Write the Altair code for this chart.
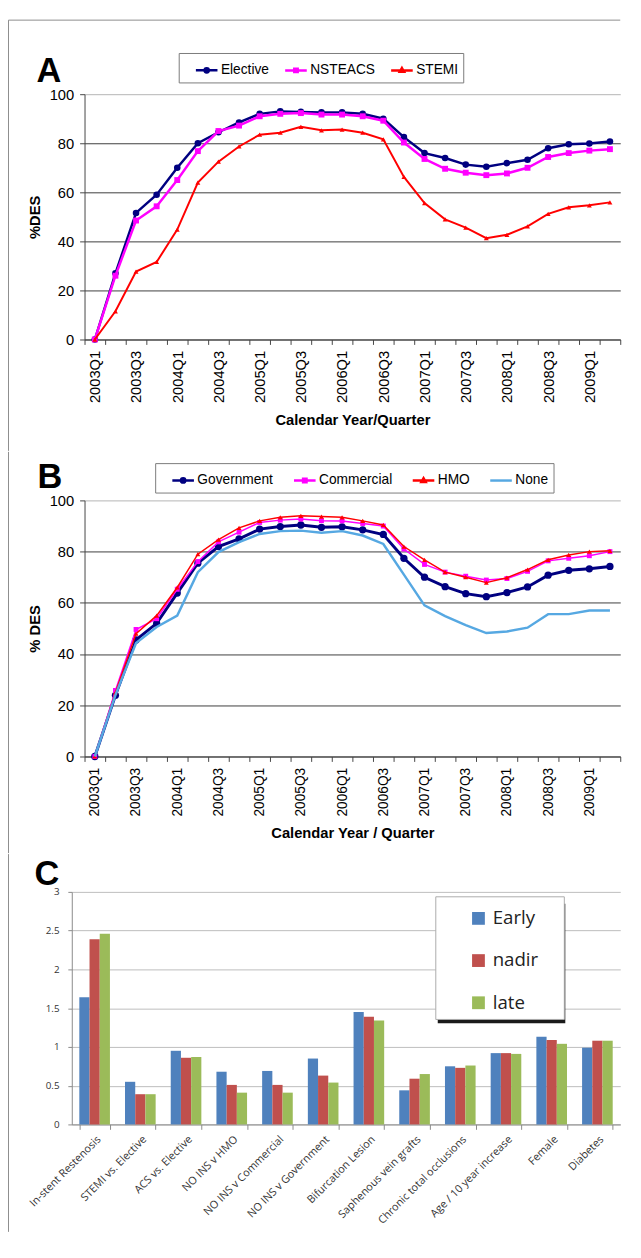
import altair as alt
import pandas as pd

FONT = "Liberation Sans"
CFONT = "Open Sans"

quarters = ["2003Q1", "2003Q2", "2003Q3", "2003Q4", "2004Q1", "2004Q2", "2004Q3", "2004Q4",
            "2005Q1", "2005Q2", "2005Q3", "2005Q4", "2006Q1", "2006Q2", "2006Q3", "2006Q4",
            "2007Q1", "2007Q2", "2007Q3", "2007Q4", "2008Q1", "2008Q2", "2008Q3", "2008Q4",
            "2009Q1", "2009Q2"]

# Panel A
series_a = ["Elective", "NSTEACS", "STEMI"]
elective = [0, 27, 51.6, 59, 70, 80, 84.5, 88.5, 92, 93, 92.8, 92.6, 92.6, 92, 90, 82.5,
            76, 74, 71.3, 70.4, 71.9, 73.3, 78, 79.6, 79.9, 80.7]
nsteacs = [0, 26, 48.5, 54.3, 65, 76.8, 85, 87.2, 91, 92, 92.3, 91.7, 91.7, 91, 89.2, 80.3,
           73.6, 69.6, 68, 67, 67.7, 70, 74.4, 76, 77, 77.6]
stemi = [0, 11.5, 27.7, 31.6, 44.8, 64, 72.5, 78.7, 83.5, 84.3, 86.7, 85.3, 85.6, 84.3, 81.6, 66.3,
         55.6, 49, 45.6, 41.3, 42.7, 46.1, 51.2, 53.9, 54.7, 55.9]

# Panel B
series_b = ["Government", "Commercial", "HMO", "None"]
government = [0, 23.9, 45.5, 52, 63.8, 75.5, 82, 85, 88.8, 89.8, 90.4, 89.5, 89.7, 88.5, 86.7, 77.4,
              70, 66.3, 63.6, 62.4, 64, 66.2, 70.8, 72.7, 73.3, 74.2]
commercial = [0, 25.8, 49.6, 53.8, 65.3, 76.1, 83.8, 87.6, 91.4, 92.3, 92.7, 92.1, 92, 91, 90, 81,
              75, 72, 70.4, 68.9, 69.5, 72.3, 76.4, 77.4, 78.4, 80]
hmo = [0, 25, 48, 55, 66, 79, 84.7, 89.3, 92, 93.4, 94, 93.7, 93.4, 92, 90.4, 82,
       76.8, 72, 70, 67.9, 69.8, 73, 76.8, 78.7, 80, 80.3]
none_ins = [0, 24, 44.3, 50.6, 55, 72, 79.8, 83.7, 86.9, 88, 88.2, 87.4, 88, 86.3, 83, 71,
            59, 54.8, 51.3, 48.2, 48.8, 50.3, 55.6, 55.6, 57, 57]

# Panel C
categories = ["In-stent Restenosis", "STEMI vs. Elective", "ACS vs. Elective", "NO INS v HMO",
              "NO INS v Commercial", "NO INS v Government", "Bifurcation Lesion",
              "Saphenous vein grafts", "Chronic total occlusions", "Age / 10 year increase",
              "Female", "Diabetes"]
periods = ["Early", "nadir", "late"]
early = [1.64, 0.55, 0.95, 0.68, 0.69, 0.85, 1.45, 0.44, 0.75, 0.92, 1.13, 0.99]
nadir = [2.39, 0.39, 0.86, 0.51, 0.51, 0.63, 1.39, 0.59, 0.73, 0.92, 1.09, 1.08]
late = [2.46, 0.39, 0.87, 0.41, 0.41, 0.54, 1.34, 0.65, 0.76, 0.91, 1.04, 1.08]

# legend symbol paths (line + marker), unit = sqrt(size)/2
LINE = "M-1,0H1"
CIRC = "M-0.2,0A0.2,0.2,0,1,1,0.2,0A0.2,0.2,0,1,1,-0.2,0Z"
SQR = "M-0.16,-0.16H0.16V0.16H-0.16Z"
TRI = "M0,-0.22L0.2,0.13H-0.2Z"

one = alt.InlineData(values=[{"k": 1}])


def deco(frame_x, frame_top, frame_bot, top_line, right, letter, lx, ly):
    base = alt.Chart(one)
    layers = [base.mark_rule(color="#8c8c8c", strokeWidth=1).encode(
        x=alt.value(frame_x), y=alt.value(frame_top), y2=alt.value(frame_bot))]
    if top_line:
        layers.append(base.mark_rule(color="#8c8c8c", strokeWidth=1).encode(
            x=alt.value(frame_x), x2=alt.value(right), y=alt.value(frame_top)))
    layers.append(base.mark_text(text=letter, font=FONT, fontSize=35, fontWeight="bold",
                                 align="left", baseline="alphabetic", color="black").encode(
        x=alt.value(lx), y=alt.value(ly)))
    return layers


def line_panel(names, values, colors, widths, shapes, sizes, legend_shapes, ylab, xlab,
               w, h, label_size, legend_x, legend_y, frame_x, frame_top, frame_bot,
               top_line, letter, lx, ly, col_pad):
    rows = []
    for n, vals in zip(names, values):
        for q, v in zip(quarters, vals):
            rows.append({"quarter": q, "series": n, "value": v})
    df = pd.DataFrame(rows)

    x_axis = alt.Axis(
        title=xlab, titleFont=FONT, titleFontSize=15, titleFontWeight="bold", titleColor="black",
        titlePadding=10, labelAngle=270, labelFont=FONT, labelFontSize=label_size,
        labelColor="black", labelPadding=6, labelOverlap=False,
        labelExpr="(substring(datum.value, 4) == 'Q1' || substring(datum.value, 4) == 'Q3') ? datum.value : ''",
        tickBand="extent", tickSize=5, tickColor="#444", domainColor="#444", grid=False)
    y_axis = alt.Axis(
        values=[0, 20, 40, 60, 80, 100], title=ylab, titleFont=FONT, titleFontSize=15,
        titleFontWeight="bold", titleColor="black", titlePadding=7, labelFont=FONT,
        labelFontSize=15, labelColor="black", labelPadding=6, tickSize=5, tickColor="#444",
        domainColor="#444", grid=True, gridWidth=1,
        gridColor={"condition": {"test": "datum.value == 100", "value": "#b5b5b5"}, "value": "#3c3c3c"})
    x_enc = alt.X("quarter:O", sort=quarters, bandPosition=0.5,
                  scale=alt.Scale(type="band", paddingInner=0, paddingOuter=0), axis=x_axis)
    y_enc = alt.Y("value:Q", scale=alt.Scale(domain=[0, 100]), axis=y_axis)

    layers = []
    for n, c, wd, s, sz in zip(names, colors, widths, shapes, sizes):
        sub = alt.Chart(df).transform_filter(alt.datum.series == n)
        layers.append(sub.mark_line(color=c, strokeWidth=wd).encode(x=x_enc, y=y_enc))
        if s:
            layers.append(sub.mark_point(shape=s, size=sz, filled=True, color=c, opacity=1,
                                         strokeWidth=0).encode(x=x_enc, y=y_enc))

    leg = dict(title=None, orient="none", legendX=legend_x, legendY=legend_y,
               direction="horizontal", labelFont=FONT, labelFontSize=14, labelColor="black",
               strokeColor="#7a7a7a", fillColor="white", padding=5, symbolOffset=11,
               columnPadding=col_pad, labelOffset=2, symbolSize=484, symbolStrokeWidth=2.5)
    legend_layer = alt.Chart(df).transform_filter("false").mark_point(
        filled=False, opacity=1, strokeWidth=2.5, size=484).encode(
        color=alt.Color("series:N", scale=alt.Scale(domain=names, range=colors),
                        legend=alt.Legend(**leg)),
        shape=alt.Shape("series:N", scale=alt.Scale(domain=names, range=legend_shapes),
                        legend=alt.Legend(**leg)))
    layers.append(legend_layer)
    layers += deco(frame_x, frame_top, frame_bot, top_line, w, letter, lx, ly)
    return alt.layer(*layers).properties(width=w, height=h)


panel_a = line_panel(
    series_a, [elective, nsteacs, stemi], ["#000080", "#ff00ff", "#ff0000"],
    [2.5, 2.5, 2], ["circle", "square", "triangle-up"], [45, 36, 25],
    [LINE + CIRC, LINE + SQR, LINE + TRI], "%DES", "Calendar Year/Quarter",
    546, 250, 15, 96, -42, -77.5, -75.5, 363.5, True, "A", -49, -12, 3)

panel_b = line_panel(
    series_b, [government, commercial, hmo, none_ins],
    ["#000080", "#ff00ff", "#ff0000", "#56a8e2"],
    [3, 1.5, 1.5, 2.5], ["circle", "square", "triangle-up", None], [55, 25, 25, 0],
    [LINE + CIRC, LINE + SQR, LINE + TRI, LINE], "% DES", "Calendar Year / Quarter",
    546, 261, 14, 72, -38, -77.5, -49.5, 359.5, False, "B", -48, -13, 8)

# Panel C (plot origin shared with A/B; axis pulled left by 13 px)
rows_c = []
for p, vals in zip(periods, [early, nadir, late]):
    for cat, v in zip(categories, vals):
        rows_c.append({"cat": cat, "period": p, "value": v})
dfc = pd.DataFrame(rows_c)

bars = alt.Chart(dfc).mark_bar().encode(
    x=alt.X("cat:N", sort=categories,
            scale=alt.Scale(paddingInner=0.33, paddingOuter=0.165, range=[-13, 546]),
            axis=alt.Axis(title=None, labelAngle=315, labelFont=CFONT, labelFontSize=11,
                          labelColor="#333333", labelPadding=4, labelOverlap=False,
                          tickBand="extent", tickSize=5, tickColor="#8a8a8a",
                          domainColor="#8a8a8a", grid=False)),
    xOffset=alt.XOffset("period:N", sort=periods,
                        scale=alt.Scale(paddingInner=0, paddingOuter=0)),
    y=alt.Y("value:Q", scale=alt.Scale(domain=[0, 3]),
            axis=alt.Axis(values=[0, 0.5, 1, 1.5, 2, 2.5, 3], labelExpr="'' + datum.value",
                          offset=13, title=None, labelFont=CFONT, labelFontSize=10,
                          labelColor="#333333", tickSize=4, labelPadding=9, grid=True,
                          gridColor="#bdbdbd", domainColor="#8a8a8a", tickColor="#8a8a8a")),
    color=alt.Color("period:N", sort=periods,
                    scale=alt.Scale(domain=periods, range=["#4f81bd", "#c0504d", "#9bbb59"]),
                    legend=alt.Legend(title=None, orient="none", legendX=392, legendY=17.5,
                                      direction="vertical", symbolType="square", symbolSize=170,
                                      symbolStrokeWidth=0, labelFont=CFONT, labelFontSize=19,
                                      labelColor="#222222", rowPadding=23, padding=0,
                                      symbolOffset=0, labelOffset=5, zindex=2)),
)

# legend frame with drop shadow (decoration behind the legend entries)
box_shadow = alt.Chart(one).mark_rect(color="#1a1a1a").encode(
    x=alt.value(360), x2=alt.value(490), y=alt.value(12), y2=alt.value(134))
box = alt.Chart(one).mark_rect(fill="white", stroke="#aaaaaa", strokeWidth=1).encode(
    x=alt.value(358), x2=alt.value(489), y=alt.value(5), y2=alt.value(130))

panel_c = alt.layer(bars, box_shadow, box,
                    *deco(-77.5, -38.5, 346.5, False, 546, "C", -51, -7)).properties(
    width=546, height=237)

chart = alt.concat(panel_a, panel_b, panel_c, columns=1, spacing=0).properties(
    padding=0, background="white"
).resolve_scale(color="independent", shape="independent"
).resolve_legend(color="independent", shape="independent"
).configure_view(strokeWidth=0)

chart.save("out.html", embed_options={"renderer": "svg", "actions": False})
